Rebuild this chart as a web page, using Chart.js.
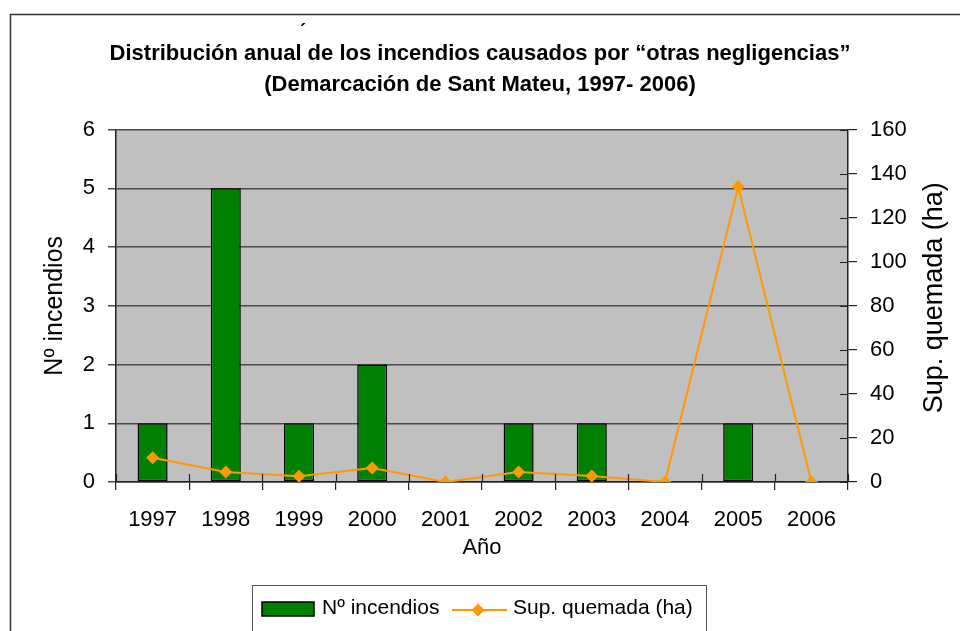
<!DOCTYPE html>
<html>
<head>
<meta charset="utf-8">
<script src="https://cdn.jsdelivr.net/npm/chart.js@4/dist/chart.umd.min.js"></script>
<style>
html,body{margin:0;padding:0;background:#fff;}
canvas{display:block;}
</style>
</head>
<body>
<canvas id="c" width="960" height="631"></canvas>
<script>
const categories = ['1997','1998','1999','2000','2001','2002','2003','2004','2005','2006'];
const incendios = [1, 5, 1, 2, 0, 1, 1, 0, 1, 0];
const superficie = [11, 4.5, 2.6, 6.4, 0, 4.5, 2.7, 0, 134, 0];
const titleLines = ['Distribución anual de los incendios causados por “otras negligencias”', '(Demarcación de Sant Mateu, 1997- 2006)'];
const leftTicks = [0, 1, 2, 3, 4, 5, 6];
const rightTicks = [0, 20, 40, 60, 80, 100, 120, 140, 160];
const rightTitle = 'Sup. quemada (ha)';

const FONT = "'Liberation Sans', Arial, sans-serif";
const GREEN = '#008000';
const ORANGE = '#FF9900';

const decor = {
  id: 'decor',
  beforeDraw(chart) {
    const ctx = chart.ctx, a = chart.chartArea;
    ctx.save();
    ctx.fillStyle = '#fff';
    ctx.fillRect(0, 0, chart.width, chart.height);
    ctx.strokeStyle = '#333';
    ctx.lineWidth = 1.5;
    ctx.beginPath();
    ctx.moveTo(10.5, 640); ctx.lineTo(10.5, 14.5); ctx.lineTo(970, 14.5);
    ctx.stroke();
    ctx.fillStyle = '#000';
    ctx.font = 'bold 18px ' + FONT;
    ctx.textAlign = 'center';
    ctx.textBaseline = 'middle';
    ctx.fillText('´', 303, 32);
    ctx.fillStyle = '#C0C0C0';
    ctx.fillRect(a.left, a.top, a.right - a.left, a.bottom - a.top);
    ctx.restore();
  },
  afterDraw(chart) {
    const ctx = chart.ctx, a = chart.chartArea;
    const x = chart.scales.x, y1 = chart.scales.y1;
    ctx.save();
    ctx.strokeStyle = '#222';
    ctx.lineWidth = 1.2;
    ctx.beginPath();
    for (let i = 0; i <= categories.length; i++) {
      const px = Math.round(x.getPixelForValue(i - 0.5)) + 0.5;
      ctx.moveTo(px, a.bottom - 8); ctx.lineTo(px, a.bottom);
    }
    rightTicks.forEach(v => {
      const py = Math.round(y1.getPixelForValue(v)) + 0.5;
      ctx.moveTo(a.right - 8, py); ctx.lineTo(a.right, py);
    });
    ctx.stroke();

    // right axis title, reading bottom to top
    ctx.save();
    ctx.translate(935, (y1.top + y1.bottom) / 2 - 8);
    ctx.rotate(-Math.PI / 2);
    ctx.fillStyle = '#000';
    ctx.font = '27px ' + FONT;
    ctx.textAlign = 'center';
    ctx.textBaseline = 'middle';
    ctx.fillText(rightTitle, 0, 0);
    ctx.restore();

    // legend
    const ds = chart.data.datasets;
    ctx.strokeStyle = '#555';
    ctx.lineWidth = 1;
    ctx.strokeRect(252.5, 585.5, 454, 80);
    const cy = 609;
    ctx.fillStyle = ds[0].backgroundColor;
    ctx.fillRect(262, cy - 7, 52, 14);
    ctx.strokeStyle = '#000';
    ctx.lineWidth = 1.5;
    ctx.strokeRect(262, cy - 7, 52, 14);
    ctx.fillStyle = '#000';
    ctx.font = '21px ' + FONT;
    ctx.textAlign = 'left';
    ctx.textBaseline = 'middle';
    ctx.fillText(ds[0].label, 322, cy - 1);
    ctx.strokeStyle = ds[1].borderColor;
    ctx.lineWidth = 2;
    ctx.beginPath(); ctx.moveTo(452, cy + 1); ctx.lineTo(507, cy + 1); ctx.stroke();
    ctx.fillStyle = ds[1].pointBackgroundColor;
    ctx.beginPath();
    ctx.moveTo(478, cy - 5.5); ctx.lineTo(484.5, cy + 1); ctx.lineTo(478, cy + 7.5); ctx.lineTo(471.5, cy + 1);
    ctx.closePath(); ctx.fill();
    ctx.fillStyle = '#000';
    ctx.fillText(ds[1].label, 513, cy - 1);
    ctx.restore();
  }
};

new Chart(document.getElementById('c'), {
  data: {
    labels: categories,
    datasets: [
      {
        type: 'bar',
        label: 'Nº incendios',
        data: incendios,
        yAxisID: 'y',
        backgroundColor: GREEN,
        borderColor: '#000',
        borderWidth: 1.5,
        borderSkipped: false,
        categoryPercentage: 1,
        barPercentage: 0.41,
        order: 2
      },
      {
        type: 'line',
        label: 'Sup. quemada (ha)',
        data: superficie,
        yAxisID: 'y1',
        borderColor: ORANGE,
        backgroundColor: ORANGE,
        borderWidth: 2,
        pointStyle: 'rectRot',
        pointRadius: 6.5,
        pointBackgroundColor: ORANGE,
        pointBorderColor: ORANGE,
        pointBorderWidth: 0,
        tension: 0,
        order: 1
      }
    ]
  },
  options: {
    responsive: false,
    animation: false,
    events: [],
    layout: { padding: { left: 0, right: 0, top: 0, bottom: 0 } },
    plugins: {
      legend: { display: false },
      tooltip: { enabled: false },
      title: {
        display: true,
        text: titleLines,
        color: '#000',
        font: { family: FONT, size: 22, weight: 'bold', lineHeight: 1.4 },
        padding: { top: 39, bottom: 29 }
      }
    },
    scales: {
      x: {
        type: 'category',
        offset: true,
        grid: { offset: true, drawOnChartArea: false, drawTicks: true, tickLength: 8, color: '#222', lineWidth: 1.2 },
        border: { display: true, color: '#222', width: 1.5 },
        ticks: { color: '#000', font: { family: FONT, size: 22 }, padding: 17, maxRotation: 0 },
        title: { display: true, text: 'Año', color: '#000', font: { family: FONT, size: 22 }, padding: { top: 0, bottom: 70 } },
        afterFit(s) { s.height = 631 - 482; }
      },
      y: {
        position: 'left',
        min: 0, max: 6,
        afterBuildTicks(s) { s.ticks = leftTicks.map(v => ({ value: v })); },
        grid: { color: '#4a4a4a', lineWidth: 1.5, tickLength: 8 },
        border: { display: true, color: '#222', width: 1.5 },
        ticks: { color: '#000', font: { family: FONT, size: 22 }, padding: 13 },
        title: { display: true, text: 'Nº incendios', color: '#000', font: { family: FONT, size: 25 }, padding: { top: 40, bottom: 0 } },
        afterFit(s) { s.width = 116; }
      },
      y1: {
        position: 'right',
        min: 0, max: 160,
        afterBuildTicks(s) { s.ticks = rightTicks.map(v => ({ value: v })); },
        grid: { drawOnChartArea: false, color: '#222', lineWidth: 1.2, tickLength: 9 },
        border: { display: true, color: '#222', width: 1.5 },
        ticks: { color: '#000', font: { family: FONT, size: 22 }, padding: 13 },
        title: { display: false },
        afterFit(s) { s.width = 960 - 848; }
      }
    }
  },
  plugins: [decor]
});
</script>
</body>
</html>
